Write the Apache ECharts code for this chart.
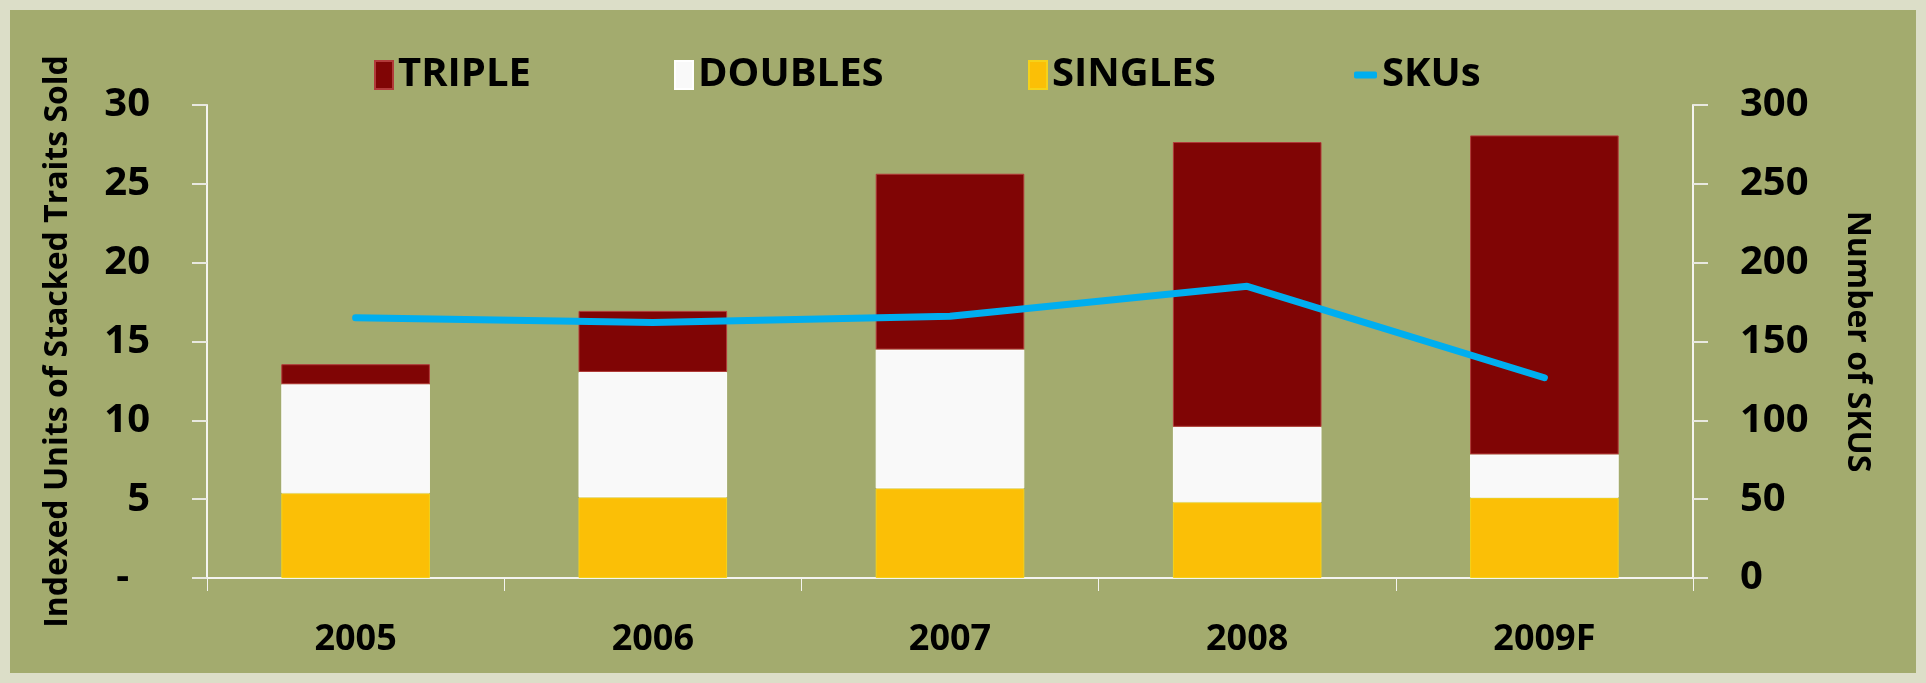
<!DOCTYPE html>
<html>
<head>
<meta charset="utf-8">
<title>Stacked traits</title>
<script src="https://cdn.jsdelivr.net/npm/echarts@6/dist/echarts.min.js"></script>
<style>
    html, body {
        margin: 0;
        padding: 0;
        background: #dcdec8;
    }
    .panel {
        position: absolute;
        left: 10px;
        top: 10px;
        width: 1906px;
        height: 663px;
        background: #a3ab6e;
    }
    #chart {
        position: absolute;
        left: 0;
        top: 0;
        width: 1926px;
        height: 683px;
    }
</style>
</head>
<body>
<div class="panel"></div>
<div id="chart"></div>
<script>
// data
var years = ['2005', '2006', '2007', '2008', '2009F']
var singles = [5.37, 5.11, 5.68, 4.80, 5.09]
var doubles = [6.92, 7.96, 8.81, 4.79, 2.75]
var triple = [1.27, 3.87, 11.15, 18.06, 20.23]
var skus = [165, 162, 166, 185, 127]

var font = '"Open Sans", "DejaVu Sans", sans-serif'

// one legend per item so each sits where it does in the original
function legendAt (x, name, icon, w, h) {
    return {
        data: [name],
        left: x,
        top: 50,
        icon: icon,
        itemWidth: w,
        itemHeight: h,
        textStyle: { fontFamily: font, fontWeight: 'bold', fontSize: 40, color: '#000' }
    }
}

var chart = echarts.init(document.getElementById('chart'))
var option = {
    animation: false,
    textStyle: { fontFamily: font },
    legend: [
        legendAt(369, 'TRIPLE', 'rect', 18, 28),
        legendAt(669, 'DOUBLES', 'rect', 18, 28),
        legendAt(1023, 'SINGLES', 'rect', 18, 28),
        legendAt(1349, 'SKUs', 'roundRect', 23, 7)
    ],
    grid: {
        left: 207,
        right: 233,
        top: 105,
        bottom: 105
    },
    xAxis: {
        type: 'category',
        data: years,
        axisLine: { lineStyle: { color: '#f4f4f0', width: 2 } },
        axisTick: { show: true, length: 13, lineStyle: { color: '#f4f4f0' } },
        axisLabel: { margin: 44, fontSize: 36, fontWeight: 'bold', color: '#000', fontFamily: font }
    },
    yAxis: [
        {
            type: 'value',
            min: 0,
            max: 30,
            interval: 5,
            name: 'Indexed Units of Stacked Traits Sold',
            nameLocation: 'middle',
            nameGap: 133,
            nameTextStyle: { fontSize: 32, fontWeight: 'bold', color: '#000', fontFamily: font },
            axisLine: { show: true, lineStyle: { color: '#f4f4f0', width: 2 } },
            axisTick: { show: true, length: 15, lineStyle: { color: '#e8e8e0', width: 2 } },
            splitLine: { show: false },
            axisLabel: {
                margin: 57,
                fontSize: 40,
                fontWeight: 'bold',
                color: '#000',
                fontFamily: font,
                formatter: function (v) { return v === 0 ? '-  ' : v }
            }
        },
        {
            type: 'value',
            min: 0,
            max: 300,
            interval: 50,
            position: 'right',
            name: 'Number of SKUS',
            nameLocation: 'middle',
            nameRotate: -90,
            nameGap: 148,
            nameTextStyle: { fontSize: 32, fontWeight: 'bold', color: '#000', fontFamily: font },
            axisLine: { show: true, lineStyle: { color: '#f4f4f0', width: 2 } },
            axisTick: { show: true, length: 15, lineStyle: { color: '#e8e8e0', width: 2 } },
            splitLine: { show: false },
            axisLabel: { margin: 47, fontSize: 40, fontWeight: 'bold', color: '#000', fontFamily: font }
        }
    ],
    series: [
        {
            name: 'SINGLES',
            type: 'bar',
            stack: 'traits',
            barWidth: '50%',
            data: singles,
            itemStyle: { color: '#fbbf06', borderColor: '#f5d21a', borderWidth: 1 }
        },
        {
            name: 'DOUBLES',
            type: 'bar',
            stack: 'traits',
            data: doubles,
            itemStyle: { color: '#f9f9f9', borderColor: '#ffffff', borderWidth: 1 }
        },
        {
            name: 'TRIPLE',
            type: 'bar',
            stack: 'traits',
            data: triple,
            itemStyle: { color: '#800505', borderColor: '#b23a3a', borderWidth: 1 }
        },
        {
            name: 'SKUs',
            type: 'line',
            yAxisIndex: 1,
            data: skus,
            showSymbol: false,
            z: 5,
            itemStyle: { color: '#00aeef' },
            lineStyle: { color: '#00aeef', width: 7, cap: 'round' }
        }
    ]
}
chart.setOption(option)
</script>
</body>
</html>
